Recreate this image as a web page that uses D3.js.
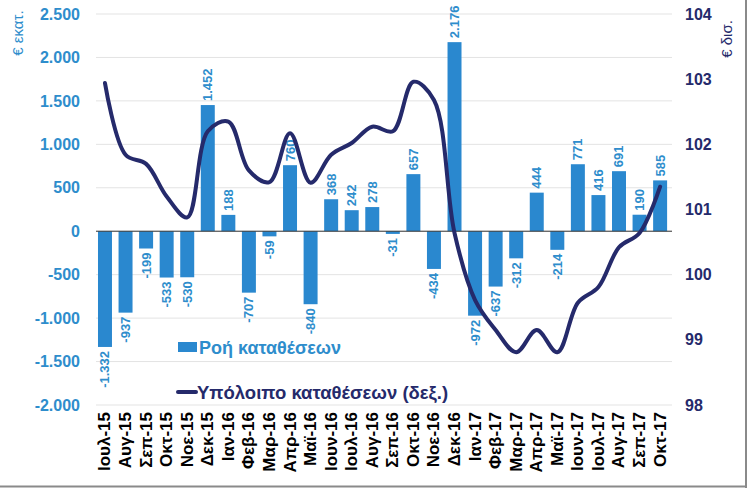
<!DOCTYPE html>
<html><head><meta charset="utf-8">
<script src="https://cdn.jsdelivr.net/npm/d3@7/dist/d3.min.js"></script>
<style>body{margin:0;background:#fff}svg{display:block;font-family:"Liberation Sans",Arial,sans-serif}</style>
</head><body><svg id="c" width="747" height="488"></svg>
<script>
const categories = ["Ιουλ-15","Αυγ-15","Σεπ-15","Οκτ-15","Νοε-15","Δεκ-15","Ιαν-16","Φεβ-16","Μαρ-16","Απρ-16","Μαϊ-16","Ιουν-16","Ιουλ-16","Αυγ-16","Σεπ-16","Οκτ-16","Νοε-16","Δεκ-16","Ιαν-17","Φεβ-17","Μαρ-17","Απρ-17","Μαϊ-17","Ιουν-17","Ιουλ-17","Αυγ-17","Σεπ-17","Οκτ-17"];
const flows = [-1332,-937,-199,-533,-530,1452,188,-707,-59,760,-840,368,242,278,-31,657,-434,2176,-972,-637,-312,444,-214,771,416,691,190,585];
const balance = [102.94,101.84,101.7,101.2,100.88,102.2,102.35,101.6,101.42,102.17,101.41,101.84,102.02,102.27,102.2,102.96,102.68,100.64,99.61,99.15,98.81,99.15,98.81,99.57,99.81,100.42,100.64,101.35];
const leftTicks = [-2000,-1500,-1000,-500,0,500,1000,1500,2000,2500];
const rightTicks = [98,99,100,101,102,103,104];
const seriesNames = ["Ροή καταθέσεων","Υπόλοιπο καταθέσεων (δεξ.)"];
const leftTitle = "€ εκατ.", rightTitle = "€ δισ.";

const BLUE = "#2a88cf", LBLUE = "#2e8dcc", NAVY = "#252a6b";
const svg = d3.select("#c");
const fmt = v => d3.format(",")(v).replace(/,/g, ".").replace(/\u2212/g, "-");

const x = d3.scaleBand().domain(categories).range([94.7, 670.4]).paddingInner(0.32).paddingOuter(0.16);
const yL = d3.scaleLinear().domain([-2000, 2500]).range([405, 14]);
const yR = d3.scaleLinear().domain([98, 104]).range([405, 14]);

// gridlines
svg.append("g").selectAll("line").data(leftTicks).join("line")
  .attr("x1", 96).attr("x2", 672).attr("y1", d => yL(d)).attr("y2", d => yL(d))
  .attr("stroke", "#e3e3e3").attr("stroke-width", 1);

// left axis
const gL = svg.append("g").attr("transform", "translate(96,0)")
  .call(d3.axisLeft(yL).tickValues(leftTicks).tickFormat(fmt).tickSize(0).tickPadding(16));
gL.select(".domain").remove();
gL.selectAll("text").attr("fill", LBLUE).attr("font-size", 16).attr("font-weight", "bold")
  .attr("font-family", "Liberation Sans, Arial, sans-serif");

// right axis
const gR = svg.append("g").attr("transform", "translate(672,0)")
  .call(d3.axisRight(yR).tickValues(rightTicks).tickFormat(d3.format("d")).tickSize(0).tickPadding(13));
gR.select(".domain").remove();
gR.selectAll("text").attr("fill", NAVY).attr("font-size", 16).attr("font-weight", "bold")
  .attr("font-family", "Liberation Sans, Arial, sans-serif");

// axis titles
svg.append("text").attr("transform", "translate(17,33) rotate(-90)").attr("text-anchor", "middle")
  .attr("dominant-baseline", "central").attr("fill", LBLUE).attr("font-size", 15).text(leftTitle);
svg.append("text").attr("transform", "translate(726,39) rotate(-90)").attr("text-anchor", "middle")
  .attr("dominant-baseline", "central").attr("fill", NAVY).attr("font-size", 15).text(rightTitle);

// bars
svg.append("g").selectAll("rect").data(flows).join("rect")
  .attr("x", (d, i) => x(categories[i])).attr("width", x.bandwidth())
  .attr("y", d => yL(Math.max(0, d))).attr("height", d => Math.abs(yL(d) - yL(0)))
  .attr("fill", BLUE);

// zero line
svg.append("line").attr("x1", 96).attr("x2", 672).attr("y1", yL(0)).attr("y2", yL(0))
  .attr("stroke", "#3a3a3a").attr("stroke-width", 1);

// bar labels
svg.append("g").selectAll("text").data(flows).join("text")
  .attr("transform", (d, i) => {
    const cx = x(categories[i]) + x.bandwidth() / 2;
    const cy = d >= 0 ? yL(d) - 4 : yL(d) + 4;
    return `translate(${cx},${cy}) rotate(-90)`;
  })
  .attr("text-anchor", d => d >= 0 ? "start" : "end")
  .attr("dominant-baseline", "central")
  .attr("fill", LBLUE).attr("font-size", 13).attr("font-weight", "bold")
  .text(d => fmt(d));

// line
const line = d3.line().x((d, i) => x(categories[i]) + x.bandwidth() / 2).y(d => yR(d))
  .curve(d3.curveCatmullRom.alpha(0.5));
svg.append("path").datum(balance).attr("d", line).attr("fill", "none")
  .attr("stroke", NAVY).attr("stroke-width", 4).attr("stroke-linejoin", "round").attr("stroke-linecap", "round");

// x labels
svg.append("g").selectAll("text").data(categories).join("text")
  .attr("transform", d => `translate(${x(d) + x.bandwidth() / 2},412) rotate(-90)`)
  .attr("text-anchor", "end").attr("dominant-baseline", "central")
  .attr("fill", "#000").attr("font-size", 17).attr("font-weight", "bold").text(d => d);

// legend
const lg = svg.append("g");
lg.append("rect").attr("x", 178).attr("y", 342).attr("width", 19).attr("height", 10).attr("fill", BLUE);
lg.append("text").attr("x", 199).attr("y", 354).attr("fill", LBLUE).attr("font-size", 18)
  .attr("font-weight", "bold").text(seriesNames[0]);
lg.append("line").attr("x1", 178).attr("x2", 196).attr("y1", 392).attr("y2", 392)
  .attr("stroke", NAVY).attr("stroke-width", 4).attr("stroke-linecap", "round");
lg.append("text").attr("x", 197).attr("y", 399).attr("fill", NAVY).attr("font-size", 18.5)
  .attr("font-weight", "bold").text(seriesNames[1]);

// frame
svg.append("line").attr("x1", 0).attr("x2", 747).attr("y1", 486.5).attr("y2", 486.5).attr("stroke", "#8a8a8a").attr("stroke-width", 2);
svg.append("line").attr("x1", 746).attr("x2", 746).attr("y1", 0).attr("y2", 488).attr("stroke", "#8a8a8a").attr("stroke-width", 2);
</script></body></html>
